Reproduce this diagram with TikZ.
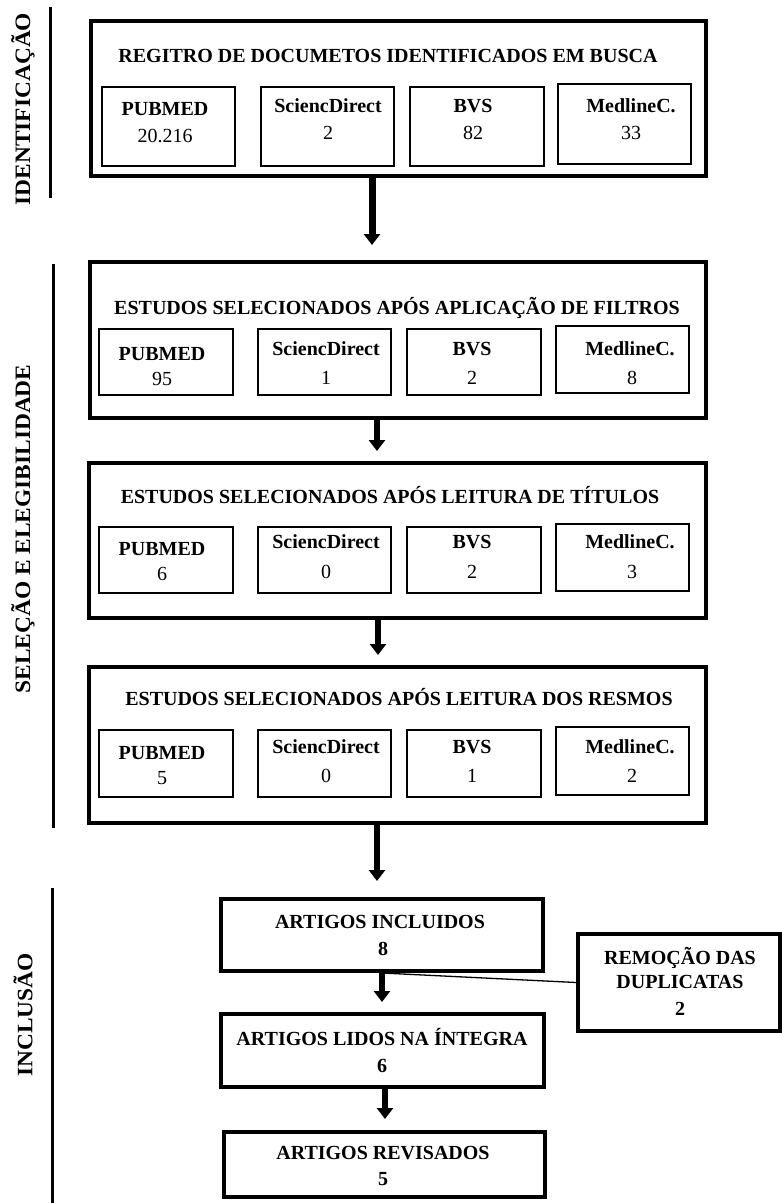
\documentclass[tikz,border=0pt]{standalone}
\usepackage{fontspec}
\setmainfont{Liberation Serif}
\usetikzlibrary{arrows.meta,fit}
\newcommand\ttl{\fontsize{20}{23}\selectfont\bfseries}
\newcommand\numf{\fontsize{20}{23}\selectfont}
\newcommand\sidef{\fontsize{23.4}{26}\selectfont\bfseries}
\newcommand\hs[1]{#1}
\newcommand\vs[1]{\scalebox{1}[0.94]{#1}}
\tikzset{
  outerbox/.style={draw, line width=4pt, inner sep=0pt},
  subbox/.style={draw, line width=1.2pt, inner sep=0pt},
  txt/.style={anchor=base, inner sep=0pt},
  arr/.style={line width=6pt, -{Triangle[width=16pt,length=11pt]}},
  sideline/.style={line width=3pt},
  sidelabel/.style={rotate=90, inner sep=0pt, font=\sidef}
}
\begin{document}
\begin{tikzpicture}[x=1pt,y=-1pt]
\useasboundingbox (0,0) rectangle (782,1203);
% side labels
\draw[sideline] (50,7) -- (50,198);
\draw[sideline] (53,264) -- (53,828);
\draw[sideline] (52,888) -- (52,1203);
\node[sidelabel] (lid) at (23,109) {\vs{IDENTIFICAÇÃO}};
\node[sidelabel] (lsel) at (23,529) {\vs{SELEÇÃO E ELEGIBILIDADE}};
\node[sidelabel] (linc) at (23,1015) {\vs{INCLUSÃO}};
% outer boxes
\node[outerbox, fit={(91,21) (706,176)}] (b1) {};
\node[outerbox, fit={(90,262) (706,418)}] (b2) {};
\node[outerbox, fit={(89,463) (706,618)}] (b3) {};
\node[outerbox, fit={(89,667) (706,823)}] (b4) {};
\node[txt, font=\ttl] (t1) at (388,62) {\hs{REGITRO DE DOCUMETOS IDENTIFICADOS EM BUSCA}};
\node[txt, font=\ttl] (t2) at (397,314) {\hs{ESTUDOS SELECIONADOS APÓS APLICAÇÃO DE FILTROS}};
\node[txt, font=\ttl] (t3) at (390,503) {\hs{ESTUDOS SELECIONADOS APÓS LEITURA DE TÍTULOS}};
\node[txt, font=\ttl] (t4) at (399,705) {\hs{ESTUDOS SELECIONADOS APÓS LEITURA DOS RESMOS}};
% sub boxes, box 1
\node[subbox, fit={(102,87) (235,166)}] (s1a) {};
\node[subbox, fit={(261,87) (394,166)}] (s1b) {};
\node[subbox, fit={(410,87) (544,166)}] (s1c) {};
\node[subbox, fit={(558,84) (691,164)}] (s1d) {};
\node[txt, font=\ttl] (l1a) at (165,115) {\hs{PUBMED}};
\node[txt, font=\ttl] (l1b) at (328,112) {\hs{SciencDirect}};
\node[txt, font=\ttl] (l1c) at (473,112) {\hs{BVS}};
\node[txt, font=\ttl] (l1d) at (631,112) {\hs{MedlineC.}};
\node[txt, font=\numf] (n1a) at (165,142) {\hs{20.216}};
\node[txt, font=\numf] (n1b) at (328,139) {\hs{2}};
\node[txt, font=\numf] (n1c) at (473,139) {\hs{82}};
\node[txt, font=\numf] (n1d) at (631,139) {\hs{33}};
% sub boxes, box 2
\node[subbox, fit={(99,329) (233,395)}] (s2a) {};
\node[subbox, fit={(258,329) (391,395)}] (s2b) {};
\node[subbox, fit={(407,329) (541,395)}] (s2c) {};
\node[subbox, fit={(556,326) (689,393)}] (s2d) {};
\node[txt, font=\ttl] (l2a) at (162,360) {\hs{PUBMED}};
\node[txt, font=\ttl] (l2b) at (326,355) {\hs{SciencDirect}};
\node[txt, font=\ttl] (l2c) at (472,355) {\hs{BVS}};
\node[txt, font=\ttl] (l2d) at (630,355) {\hs{MedlineC.}};
\node[txt, font=\numf] (n2a) at (162,385) {\hs{95}};
\node[txt, font=\numf] (n2b) at (326,384) {\hs{1}};
\node[txt, font=\numf] (n2c) at (472,384) {\hs{2}};
\node[txt, font=\numf] (n2d) at (632,384) {\hs{8}};
% sub boxes, box 3
\node[subbox, fit={(99,527) (233,593)}] (s3a) {};
\node[subbox, fit={(258,527) (391,593)}] (s3b) {};
\node[subbox, fit={(407,527) (541,593)}] (s3c) {};
\node[subbox, fit={(556,524) (689,591)}] (s3d) {};
\node[txt, font=\ttl] (l3a) at (162,555) {\hs{PUBMED}};
\node[txt, font=\ttl] (l3b) at (326,548) {\hs{SciencDirect}};
\node[txt, font=\ttl] (l3c) at (472,548) {\hs{BVS}};
\node[txt, font=\ttl] (l3d) at (630,548) {\hs{MedlineC.}};
\node[txt, font=\numf] (n3a) at (162,580) {\hs{6}};
\node[txt, font=\numf] (n3b) at (326,578) {\hs{0}};
\node[txt, font=\numf] (n3c) at (472,578) {\hs{2}};
\node[txt, font=\numf] (n3d) at (632,578) {\hs{3}};
% sub boxes, box 4
\node[subbox, fit={(99,730) (233,797)}] (s4a) {};
\node[subbox, fit={(258,730) (391,797)}] (s4b) {};
\node[subbox, fit={(407,730) (541,797)}] (s4c) {};
\node[subbox, fit={(556,727) (689,795)}] (s4d) {};
\node[txt, font=\ttl] (l4a) at (162,759) {\hs{PUBMED}};
\node[txt, font=\ttl] (l4b) at (326,753) {\hs{SciencDirect}};
\node[txt, font=\ttl] (l4c) at (472,753) {\hs{BVS}};
\node[txt, font=\ttl] (l4d) at (630,753) {\hs{MedlineC.}};
\node[txt, font=\numf] (n4a) at (162,784) {\hs{5}};
\node[txt, font=\numf] (n4b) at (326,782) {\hs{0}};
\node[txt, font=\numf] (n4c) at (472,782) {\hs{1}};
\node[txt, font=\numf] (n4d) at (632,782) {\hs{2}};
% inclusion boxes
\node[outerbox, fit={(221,899) (543,971)}] (b5) {};
\node[outerbox, fit={(221,1014) (544,1087)}] (b6) {};
\node[outerbox, fit={(224,1132) (545,1197)}] (b7) {};
\node[outerbox, line width=3.5pt, fit={(578,934) (780,1031)}] (rem) {};
\node[txt, font=\ttl] (t5) at (380,928) {\hs{ARTIGOS INCLUIDOS}};
\node[txt, font=\ttl] (m5) at (383,955) {\hs{8}};
\node[txt, font=\ttl] (t6) at (382,1045) {\hs{ARTIGOS LIDOS NA ÍNTEGRA}};
\node[txt, font=\ttl] (m6) at (382,1072) {\hs{6}};
\node[txt, font=\ttl] (t7) at (383,1159) {\hs{ARTIGOS REVISADOS}};
\node[txt, font=\ttl] (m7) at (383,1185) {\hs{5}};
\node[txt, font=\ttl] (r1) at (680,964) {\hs{REMOÇÃO DAS}};
\node[txt, font=\ttl] (r2) at (680,988) {\hs{DUPLICATAS}};
\node[txt, font=\ttl] (r3) at (680,1015) {\hs{2}};
% arrow x positions
\coordinate (x1) at (372,0);
\coordinate (x2) at (377,0);
\coordinate (x3) at (378,0);
\coordinate (x4) at (377,0);
\coordinate (x5) at (382,0);
\coordinate (x6) at (385,0);
\draw[arr, line width=7pt, shorten >=15pt] (b1.south -| x1) -- (b2.north -| x1);
\draw[arr, shorten >=10pt] (b2.south -| x2) -- (b3.north -| x2);
\draw[arr, shorten >=10pt] (b3.south -| x3) -- (b4.north -| x3);
\draw[arr, shorten >=16pt] (b4.south -| x4) -- (b5.north -| x4);
\draw[arr, shorten >=10pt] (b5.south -| x5) -- (b6.north -| x5);
\draw[arr, shorten >=11pt] (b6.south -| x6) -- (b7.north -| x6);
\draw[line width=1.3pt] (b5.south -| x5) -- (rem.west);
\end{tikzpicture}
\end{document}
